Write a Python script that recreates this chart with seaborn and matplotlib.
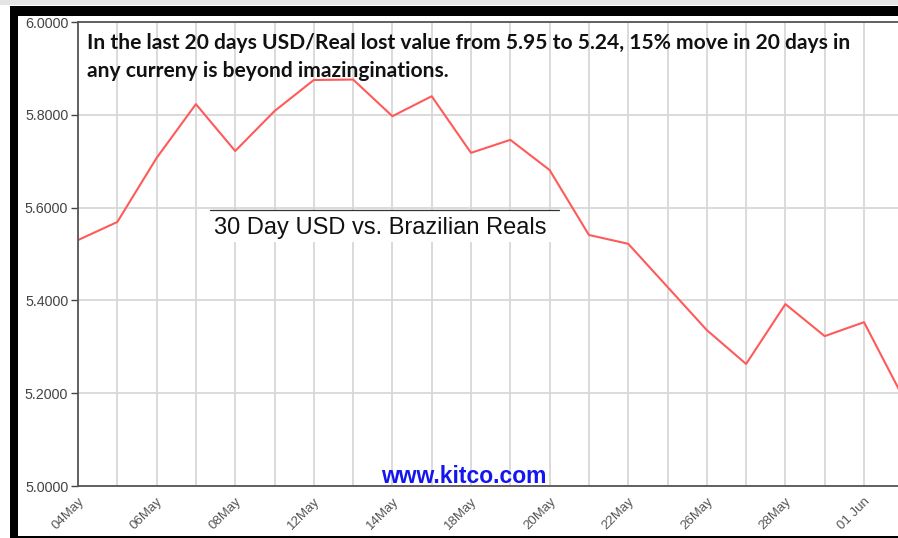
import numpy as np
import pandas as pd
import matplotlib.pyplot as plt
import matplotlib.patches as mpatches
import seaborn as sns

# trading days shown on the chart (every other one labelled)
days = ['04May', '05May', '06May', '07May', '08May', '11May', '12May', '13May',
        '14May', '15May', '18May', '19May', '20May', '21May', '22May', '25May',
        '26May', '27May', '28May', '29May', '01 Jun', '02 Jun']
usd_brl = [5.530, 5.569, 5.707, 5.823, 5.722, 5.808, 5.875, 5.876,
           5.797, 5.840, 5.718, 5.746, 5.681, 5.541, 5.522, 5.429,
           5.336, 5.263, 5.392, 5.323, 5.353, 5.190]
y_ticks = [5.0, 5.2, 5.4, 5.6, 5.8, 6.0]

df = pd.DataFrame({'pos': np.arange(len(days)), 'day': days, 'rate': usd_brl})

sns.set_style('white')
fig = plt.figure(figsize=(8.98, 5.38), dpi=100)
ax = fig.add_axes([78 / 898, 52 / 538, 22 * 39.3 / 898, 464 / 538])

sns.lineplot(data=df, x='pos', y='rate', ax=ax, color='#ff5a5a', linewidth=1.5)

ax.set_xlim(0, 22)
ax.set_ylim(5.0, 6.0)
ax.set_xticks(df['pos'])
ax.set_xticklabels([d if i % 2 == 0 else '' for i, d in enumerate(days)],
                   rotation=45, ha='right', rotation_mode='anchor',
                   fontsize=9.5, color='#555555', family='Liberation Sans')
ax.set_yticks(y_ticks)
ax.set_yticklabels(['%.4f' % v for v in y_ticks], fontsize=10.3,
                   color='#444444', family='Liberation Sans')
ax.tick_params(axis='x', length=0, pad=7)
ax.tick_params(axis='y', length=5, width=1, color='#444444', pad=2, left=True)
ax.grid(True, color='#d8d8d8', linewidth=1.3)
ax.set_axisbelow(True)
ax.set_xlabel('')
ax.set_ylabel('')
for s in ['left', 'bottom', 'top']:
    ax.spines[s].set_color('#555555')
    ax.spines[s].set_linewidth(1.3)
ax.spines['right'].set_visible(False)

# chart title box
ax.add_patch(mpatches.Rectangle((3.35, 5.525), 8.9, 0.07, facecolor='white',
                                edgecolor='none', zorder=4))
ax.text(3.45, 5.557, '30 Day USD vs. Brazilian Reals', fontsize=17,
        family='Liberation Sans', color='#111111', va='center', ha='left', zorder=5)
ax.plot([3.35, 12.25], [5.595, 5.595], color='#333333', linewidth=0.9, zorder=6)

ax.text(7.7, 5.006, 'www.kitco.com', fontsize=16.5, fontweight='bold',
        family='Liberation Sans', color='#1515f0', va='baseline', ha='left')

fig.text(87 / 898, 1 - 33 / 538,
         'In the last 20 days USD/Real lost value from 5.95 to 5.24, 15% move in 20 days in\n'
         'any curreny is beyond imazinginations.',
         fontsize=15.1, fontweight='bold', family='Lato', color='#111111',
         va='top', ha='left', linespacing=1.5)

# outer frame of the screenshot
fig.patches.append(mpatches.Rectangle((0, 1 - 5 / 538), 1, 5 / 538, transform=fig.transFigure,
                                      facecolor='#e4e4e4', edgecolor='none'))
fig.patches.append(mpatches.Rectangle((10 / 898, 1 - 16 / 538), 1, 10 / 538,
                                      transform=fig.transFigure, facecolor='black', edgecolor='none'))
fig.patches.append(mpatches.Rectangle((10 / 898, 0), 8 / 898, 1 - 6 / 538,
                                      transform=fig.transFigure, facecolor='black', edgecolor='none'))
fig.patches.append(mpatches.Rectangle((10 / 898, 0), 1, 2 / 538,
                                      transform=fig.transFigure, facecolor='black', edgecolor='none'))

fig.savefig('out.png', dpi=100)
